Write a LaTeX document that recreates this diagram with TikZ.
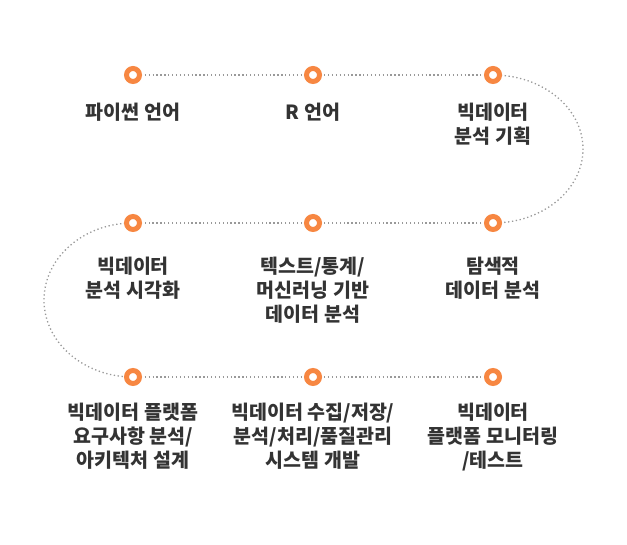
\documentclass[tikz,border=0pt]{standalone}
\usepackage{fontspec}
\newfontfamily\krfont{Noto Sans CJK KR}
\definecolor{dotorange}{RGB}{247,135,66}
\definecolor{labelgray}{RGB}{51,51,51}
\tikzset{
  roadline/.style={gray!80, line width=1.3pt, dash pattern=on 1.3pt off 2.6pt},
  stopdot/.style={circle, draw=dotorange, fill=white, line width=5pt, minimum size=13pt, inner sep=0pt},
  stoplabel/.style={anchor=north, inner sep=0pt, align=center, text=labelgray,
    font=\krfont\bfseries\fontsize{19.5}{24}\selectfont}
}
\begin{document}
\begin{tikzpicture}[x=1pt, y=-1pt]
  \useasboundingbox (0,0) rectangle (627,545);

  % --- 1. 경로 위의 점 위치 ---
  \coordinate (p1) at (133,75);
  \coordinate (p2) at (313,75);
  \coordinate (p3) at (493,75);
  \coordinate (p4) at (493,223);
  \coordinate (p5) at (313,223);
  \coordinate (p6) at (133,223);
  \coordinate (p7) at (133,377);
  \coordinate (p8) at (313,377);
  \coordinate (p9) at (493,377);

  % --- 2. 점선 경로 ---
  \draw[roadline] (p1) -- (p2) -- (p3);
  \draw[roadline] (p3) arc[start angle=-90, end angle=90, x radius=90, y radius=74];
  \draw[roadline] (p4) -- (p5) -- (p6);
  \draw[roadline] (p6) arc[start angle=270, end angle=90, x radius=89, y radius=77];
  \draw[roadline] (p7) -- (p8) -- (p9);

  % --- 3. 주황색 점 ---
  \foreach \i in {1,...,9}
    \node[stopdot] (s\i) at (p\i) {};

  % --- 4. 단계 이름 ---
  \node[stoplabel] (t1) at (133,103) {파이썬 언어};
  \node[stoplabel] (t2) at (313,103) {R 언어};
  \node[stoplabel] (t3) at (493,103) {빅데이터\\분석 기획};

  \node[stoplabel] (t6) at (133,257) {빅데이터\\분석 시각화};
  \node[stoplabel] (t5) at (313,257) {텍스트/통계/\\머신러닝 기반\\데이터 분석};
  \node[stoplabel] (t4) at (493,257) {탐색적\\데이터 분석};

  \node[stoplabel] (t7) at (133,403) {빅데이터 플랫폼\\요구사항 분석/\\아키텍처 설계};
  \node[stoplabel] (t8) at (313,403) {빅데이터 수집/저장/\\분석/처리/품질관리\\시스템 개발};
  \node[stoplabel] (t9) at (493,403) {빅데이터\\플랫폼 모니터링\\/테스트};
\end{tikzpicture}
\end{document}
